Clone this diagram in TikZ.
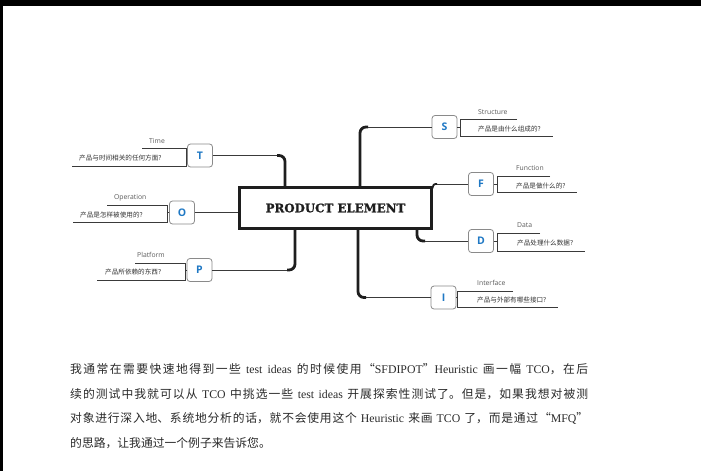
\documentclass[tikz,border=0pt]{standalone}
\usepackage{fontspec}
\setmainfont{Liberation Serif}
\newfontfamily\cjk{Noto Sans CJK SC}
\newfontfamily\lblfont{Open Sans}
\newfontfamily\slab{DejaVu Serif Bold}[FakeBold=1.2]
\XeTeXlinebreaklocale "zh"
\XeTeXlinebreakskip=0pt plus 1pt
\definecolor{letterblue}{HTML}{1F78C4}
\definecolor{boxgray}{HTML}{8A8A8A}
\definecolor{mainline}{HTML}{1E1E1E}
\definecolor{trunkcol}{HTML}{1E1E1E}
\definecolor{branchcol}{HTML}{3A3A3A}
\definecolor{engray}{HTML}{5A5A5A}
\definecolor{zhgray}{HTML}{333333}
\definecolor{paratext}{HTML}{2A2A2A}
\tikzset{
  letterbox/.style={draw=boxgray, line width=0.8pt, rounded corners=3pt,
    minimum width=25pt, minimum height=23pt, inner sep=0pt,
    font=\lblfont\bfseries\fontsize{10.5}{10.5}\selectfont, text=letterblue},
  trunk/.style={line width=2.8pt, draw=trunkcol, rounded corners=6pt},
  branch/.style={line width=0.9pt, draw=branchcol},
  brk/.style={line width=0.9pt, draw=branchcol},
  en/.style={font=\lblfont\fontsize{6.8}{7}\selectfont, text=engray, inner sep=0pt, anchor=west},
  zh/.style={font=\cjk\fontsize{6.6}{7}\selectfont, text=zhgray, inner sep=0pt, anchor=west},
}
\begin{document}
\begin{tikzpicture}[x=1pt,y=-1pt]
\useasboundingbox (0,0) rectangle (701,471);
\fill[white] (0,0) rectangle (701,471);
\fill[black] (0,0) rectangle (701,6);
\fill[black] (0,0) rectangle (2.5,471);

% central box
\node[draw=mainline, line width=3pt, minimum width=192pt, minimum height=41pt,
  inner sep=0pt, font=\slab\fontsize{11.8}{11.8}\selectfont, text=mainline]
  (pe) at (335.5,208) {PRODUCT ELEMENT};

% letter boxes
\node[letterbox] (T) at (200,155.5) {T};
\node[letterbox] (O) at (182,212.5) {O};
\node[letterbox] (P) at (199.5,270) {P};
\node[letterbox] (S) at (444.5,127) {S};
\node[letterbox] (F) at (481,184) {F};
\node[letterbox] (D) at (481,241) {D};
\node[letterbox] (I) at (443.5,297.5) {I};

% connectors
\coordinate (xT) at (285,0);  \coordinate (kT) at (277,155.5);
\draw[trunk] (pe.north -| xT) |- (kT);
\draw[branch] (kT) -- (T.east);

\draw[branch] (O.east) -- (O.east -| pe.west);

\coordinate (xP) at (295,0);  \coordinate (kP) at (287,270);
\draw[trunk] (pe.south -| xP) |- (kP);
\draw[branch] (kP) -- (P.east);

\coordinate (xS) at (360,0);  \coordinate (kS) at (368,127);
\draw[trunk] (pe.north -| xS) |- (kS);
\draw[branch] (kS) -- (S.west);

\coordinate (kF) at (437,184);
\draw[trunk, line width=1.8pt, rounded corners=2.5pt] (pe.north east) |- (kF);
\draw[branch] (kF) -- (F.west);

\coordinate (xD) at (417,0);  \coordinate (kD) at (425,241);
\draw[trunk] (pe.south -| xD) |- (kD);
\draw[branch] (kD) -- (D.west);

\coordinate (xI) at (358,0);  \coordinate (kI) at (366,297.5);
\draw[trunk] (pe.south -| xI) |- (kI);
\draw[branch] (kI) -- (I.west);

% brackets and labels: T
\draw[brk] (T.west) -- (186,155.5);
\draw[brk] (142,148) -- (186,148) -- (186,166) -- (72,166);
\node[en] (tT) at (149,141) {Time};
\node[zh] (qT) at (79,158) {产品与时间相关的任何方面?};
% O
\draw[brk] (O.west) -- (167,212.5);
\draw[brk] (107,205) -- (167,205) -- (167,222) -- (73,222);
\node[en] (tO) at (114,198) {Operation};
\node[zh] (qO) at (80,215) {产品是怎样被使用的?};
% P
\draw[brk] (P.west) -- (185,270);
\draw[brk] (135,263) -- (185,263) -- (185,280) -- (97,280);
\node[en] (tP) at (137,255) {Platform};
\node[zh] (qP) at (105,272) {产品所依赖的东西?};
% S
\draw[brk] (S.east) -- (460,127);
\draw[brk] (517,119) -- (460,119) -- (460,136) -- (553,136);
\node[en] (tS) at (478,112) {Structure};
\node[zh] (qS) at (478,129) {产品是由什么组成的?};
% F
\draw[brk] (F.east) -- (497,184);
\draw[brk] (550,176) -- (497,176) -- (497,192) -- (577,192);
\node[en] (tF) at (516,168) {Function};
\node[zh] (qF) at (516,186) {产品是做什么的?};
% D
\draw[brk] (D.east) -- (497,241);
\draw[brk] (540,233) -- (497,233) -- (497,251) -- (585,251);
\node[en] (tD) at (517,225) {Data};
\node[zh] (qD) at (517,243) {产品处理什么数据?};
% I
\draw[brk] (I.east) -- (457,297.5);
\draw[brk] (513,291) -- (457,291) -- (457,307) -- (558,307);
\node[en] (tI) at (477,283) {Interface};
\node[zh] (qI) at (477,300) {产品与外部有哪些接口?};

% paragraph
\node[anchor=base west, text width=518pt, align=justify, inner sep=0pt,
  text=paratext, font=\fontsize{11.8}{24.5}\selectfont] (para) at (70,373.5)
{{\cjk 我通常在需要快速地得到一些} test ideas {\cjk 的时候使用“}SFDIPOT{\cjk ”}Heuristic {\cjk 画一幅} TCO{\cjk ，在后}\linebreak
{\cjk 续的测试中我就可以从} TCO {\cjk 中挑选一些} test ideas {\cjk 开展探索性测试了。但是，如果我想对被测}\linebreak
{\cjk 对象进行深入地、系统地分析的话，就不会使用这个} Heuristic {\cjk 来画} TCO {\cjk 了，而是通过“}MFQ{\cjk ”}\linebreak
{\cjk 的思路，让我通过一个例子来告诉您。}};
\end{tikzpicture}
\end{document}
